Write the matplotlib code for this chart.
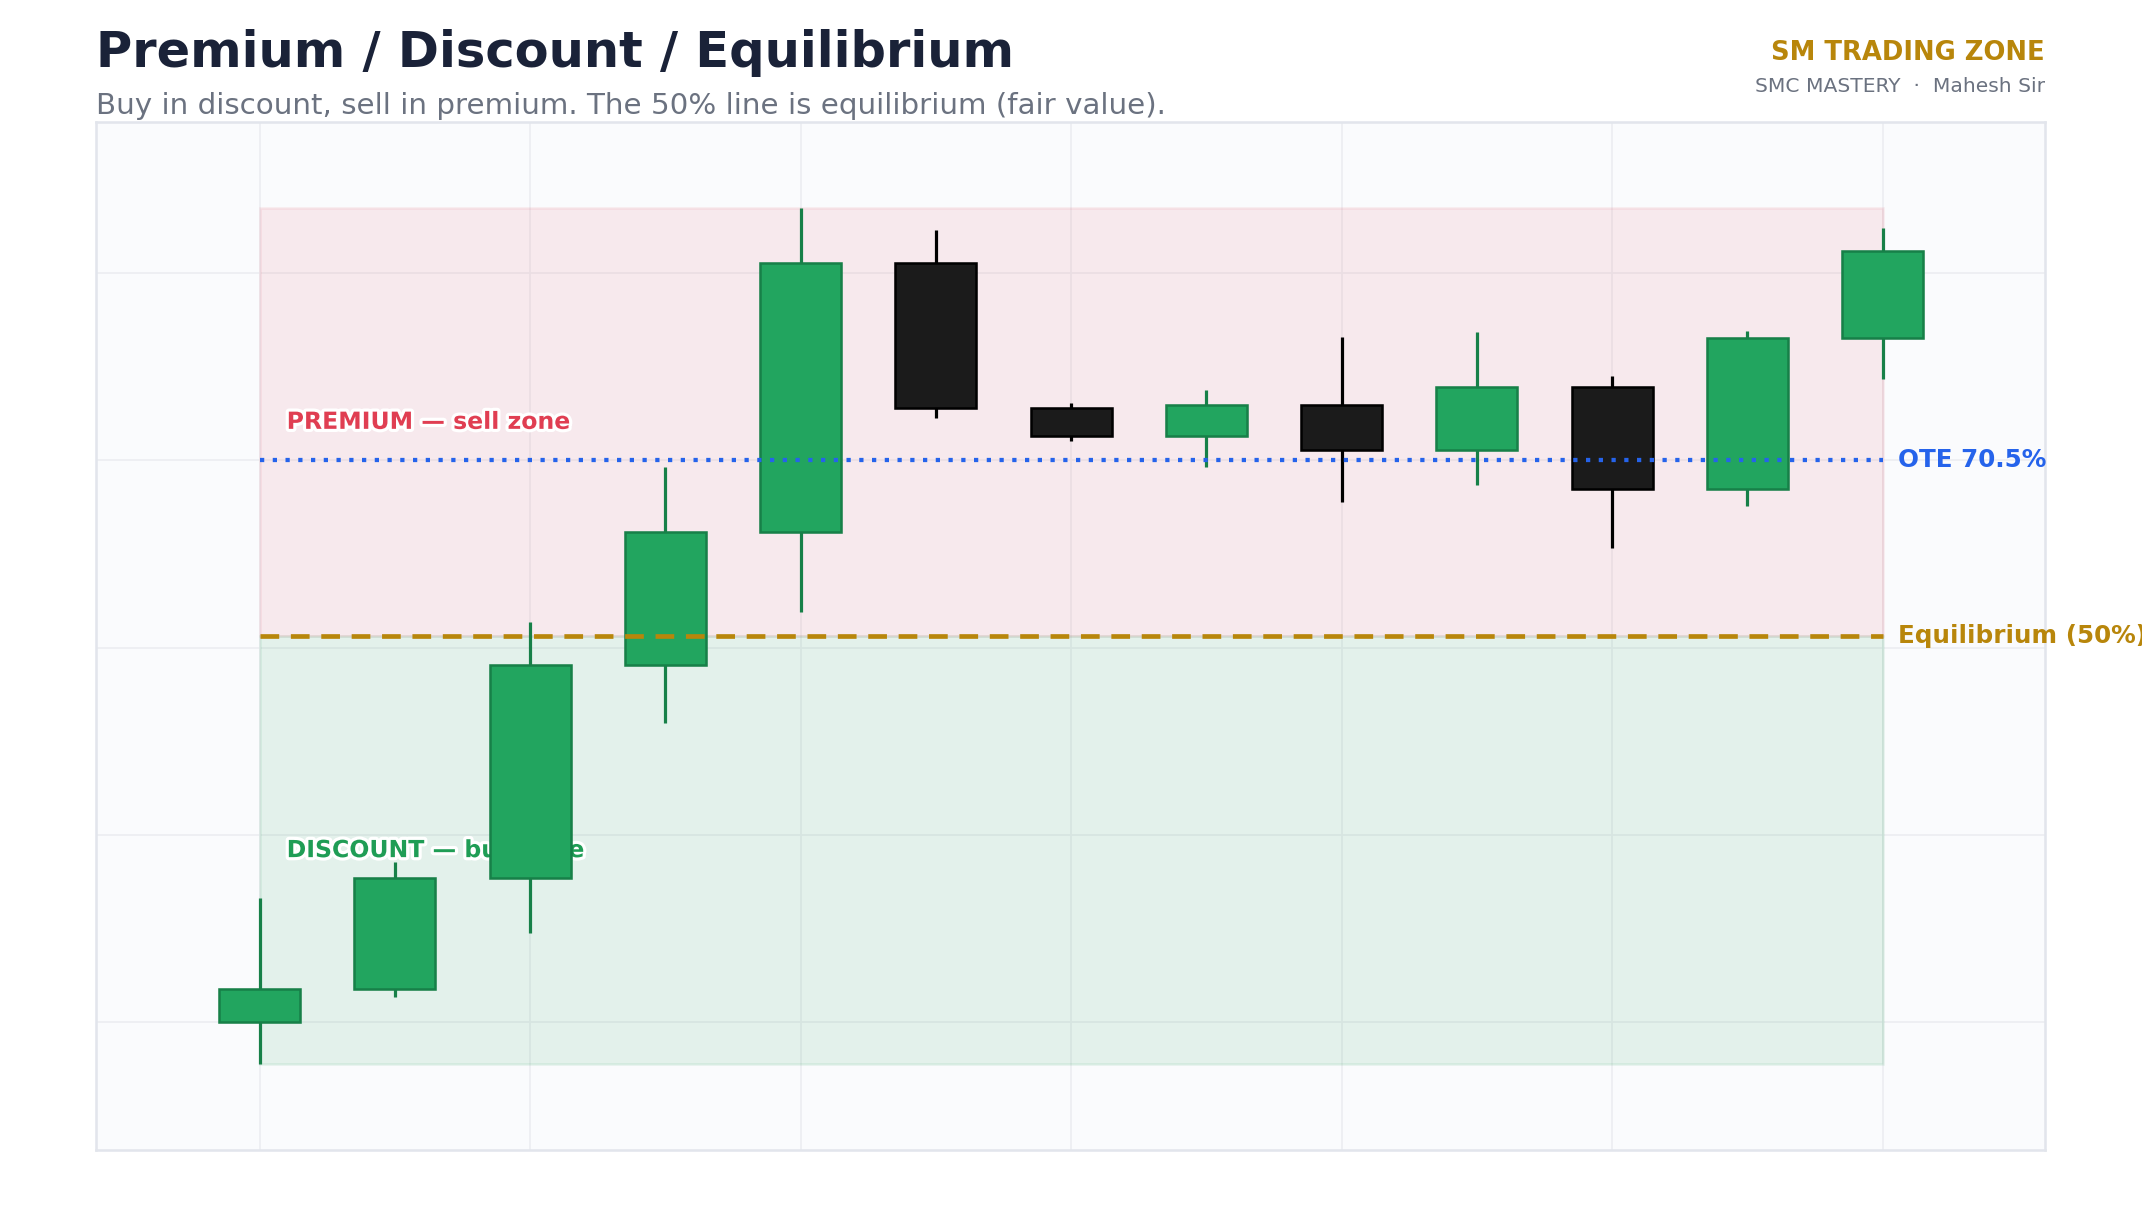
import matplotlib
matplotlib.use("Agg")
import matplotlib.pyplot as plt
import matplotlib.patheffects as pe
from matplotlib.patches import Rectangle

# candle data
opens = [100.00, 100.35, 101.54, 103.82, 105.24, 108.11, 106.56, 106.26, 106.59, 106.11, 106.78, 105.70, 107.31]
closes = [100.35, 101.54, 103.82, 105.24, 108.11, 106.56, 106.26, 106.59, 106.11, 106.78, 105.70, 107.31, 108.24]
highs = [101.33, 101.71, 104.27, 105.93, 108.70, 108.46, 106.61, 106.75, 107.32, 107.37, 106.90, 107.38, 108.48]
lows = [99.55, 100.27, 100.95, 103.20, 104.38, 106.45, 106.21, 105.93, 105.56, 105.74, 105.06, 105.51, 106.87]

ote_level = 0.705

GREEN = "#22a55f"
GREEN_EDGE = "#178048"
BLACK = "#1b1b1b"
GOLD = "#b8860b"
BLUE = "#2563eb"
RED = "#e03e52"

fig = plt.figure(figsize=(14, 8), dpi=153)
ax = fig.add_axes([0.0448, 0.0605, 0.9099, 0.8398])
ax.set_facecolor("#fafbfd")

lo = min(lows)
hi = max(highs)
rng = hi - lo
eq = lo + 0.5 * rng
ote = lo + ote_level * rng
n = len(opens)

# zones
ax.add_patch(Rectangle((0, eq), n - 1, hi - eq, facecolor=RED, alpha=0.09,
                       edgecolor=RED, linewidth=1.2, zorder=1))
ax.add_patch(Rectangle((0, lo), n - 1, eq - lo, facecolor="#1f9d55", alpha=0.1,
                       edgecolor="#1f9d55", linewidth=1.2, zorder=1))

# zone labels (behind the candles)
stroke = [pe.withStroke(linewidth=3, foreground="white")]
ax.text(0.2, eq + 0.25 * rng, "PREMIUM — sell zone", color=RED, fontsize=11.1,
        fontweight="bold", va="center", ha="left", zorder=2, path_effects=stroke)
ax.text(0.2, eq - 0.25 * rng, "DISCOUNT — buy zone", color="#1f9d55", fontsize=11.1,
        fontweight="bold", va="center", ha="left", zorder=2, path_effects=stroke)

# candles
w = 0.6
for i in range(n):
    o, c, h, l = opens[i], closes[i], highs[i], lows[i]
    up = c >= o
    fc = GREEN if up else BLACK
    ec = GREEN_EDGE if up else "black"
    ax.vlines(i, l, h, color=ec, linewidth=1.5, zorder=3)
    ax.add_patch(Rectangle((i - w / 2, min(o, c)), w, abs(c - o), facecolor=fc,
                           edgecolor=ec, linewidth=1.2, zorder=4))

# levels
ax.hlines(eq, 0, n - 1, colors=GOLD, linestyles=(0, (4, 2.5)), linewidth=2.2, zorder=5)
ax.hlines(ote, 0, n - 1, colors=BLUE, linestyles=(0, (1, 2)), linewidth=2, zorder=5)
ax.text(n - 1 + 0.11, ote, "OTE 70.5%", color=BLUE, fontsize=11.6, fontweight="bold",
        va="center", ha="left", zorder=6)
ax.text(n - 1 + 0.11, eq, "Equilibrium (50%)", color=GOLD, fontsize=11.6, fontweight="bold",
        va="center", ha="left", zorder=6, clip_on=False)

ax.set_xlim(-1.21, n - 1 + 1.2)
ax.set_ylim(lo - 0.1 * rng, hi + 0.1 * rng)
ax.grid(True, color="#eceef2", linewidth=0.8)
ax.set_axisbelow(True)
ax.tick_params(left=False, bottom=False, labelleft=False, labelbottom=False)
for s in ax.spines.values():
    s.set_color("#e2e5ec")
    s.set_linewidth(1.2)

# titles
fig.text(0.0448, 0.976, "Premium / Discount / Equilibrium", fontsize=23.3, fontweight="bold",
         color="#1a2238", ha="left", va="top")
fig.text(0.0448, 0.925, "Buy in discount, sell in premium. The 50% line is equilibrium (fair value).",
         fontsize=13.8, color="#6b7280", ha="left", va="top")
fig.text(0.9547, 0.967, "SM TRADING ZONE", fontsize=12.2, fontweight="bold", color=GOLD,
         ha="right", va="top")
fig.text(0.9547, 0.937, "SMC MASTERY  ·  Mahesh Sir", fontsize=9.5, color="#6b7280",
         ha="right", va="top")

fig.savefig("out.png", dpi=153, facecolor="white")
